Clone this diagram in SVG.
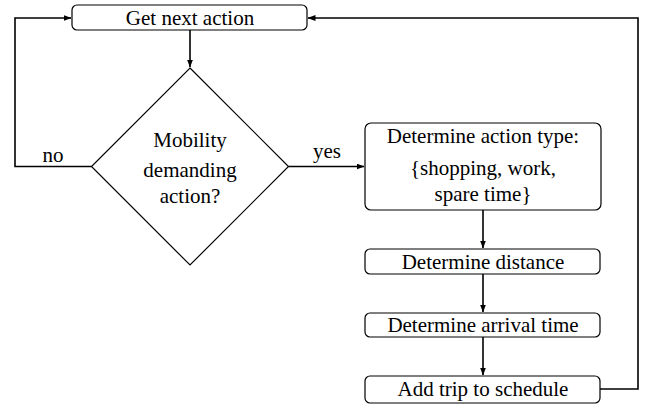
<svg xmlns="http://www.w3.org/2000/svg" width="645" height="405" viewBox="0 0 645 405">
<defs>
<marker id="ah" markerWidth="8" markerHeight="6" refX="7.5" refY="3" orient="auto" markerUnits="userSpaceOnUse">
<path d="M0,0 L8,3 L0,6 Z" fill="#000"/>
</marker>
</defs>
<g fill="none" stroke="#000" stroke-width="1.6" id="connectors">
<path d="M190,30 L190,67" marker-end="url(#ah)"/>
<path d="M91.5,166.5 L15,166.5 L15,18 L71,18" marker-end="url(#ah)"/>
<path d="M288.5,166.5 L364,166.5" marker-end="url(#ah)"/>
<path d="M483,210 L483,248" marker-end="url(#ah)"/>
<path d="M483,274 L483,312" marker-end="url(#ah)"/>
<path d="M483,337 L483,375" marker-end="url(#ah)"/>
<path d="M600,389 L638,389 L638,18 L308,18" marker-end="url(#ah)"/>
</g>
<text x="53" y="162" style="font-family:'Liberation Serif',serif;font-size:21px" text-anchor="middle">no</text>
<text x="327" y="158" style="font-family:'Liberation Serif',serif;font-size:21px" text-anchor="middle">yes</text>
<g id="get-next-action">
<rect x="72" y="5" width="235" height="25" rx="5" fill="#fff" stroke="#000" stroke-width="1.2"/>
<text x="190" y="25" style="font-family:'Liberation Serif',serif;font-size:21px" text-anchor="middle">Get next action</text>
</g>
<g id="decision">
<polygon points="190,68 288.5,166.5 190,265 91.5,166.5" fill="#fff" stroke="#000" stroke-width="1.2"/>
<text x="190" y="147" style="font-family:'Liberation Serif',serif;font-size:21px" text-anchor="middle">Mobility</text>
<text x="190" y="177" style="font-family:'Liberation Serif',serif;font-size:21px" text-anchor="middle">demanding</text>
<text x="190" y="203" style="font-family:'Liberation Serif',serif;font-size:21px" text-anchor="middle">action?</text>
</g>
<g id="action-type">
<rect x="365" y="123" width="236" height="87" rx="6" fill="#fff" stroke="#000" stroke-width="1.2"/>
<text x="483" y="143" style="font-family:'Liberation Serif',serif;font-size:21px" text-anchor="middle">Determine action type:</text>
<text x="483" y="175" style="font-family:'Liberation Serif',serif;font-size:21px" text-anchor="middle">{shopping, work,</text>
<text x="483" y="201" style="font-family:'Liberation Serif',serif;font-size:21px" text-anchor="middle">spare time}</text>
</g>
<g id="distance">
<rect x="365" y="249" width="235" height="25" rx="5" fill="#fff" stroke="#000" stroke-width="1.2"/>
<text x="483" y="269" style="font-family:'Liberation Serif',serif;font-size:21px" text-anchor="middle">Determine distance</text>
</g>
<g id="arrival">
<rect x="365" y="313" width="235" height="24" rx="5" fill="#fff" stroke="#000" stroke-width="1.2"/>
<text x="483" y="332" style="font-family:'Liberation Serif',serif;font-size:21px" text-anchor="middle">Determine arrival time</text>
</g>
<g id="schedule">
<rect x="365" y="376" width="235" height="27" rx="5" fill="#fff" stroke="#000" stroke-width="1.2"/>
<text x="483" y="396" style="font-family:'Liberation Serif',serif;font-size:21px" text-anchor="middle">Add trip to schedule</text>
</g>
</svg>
